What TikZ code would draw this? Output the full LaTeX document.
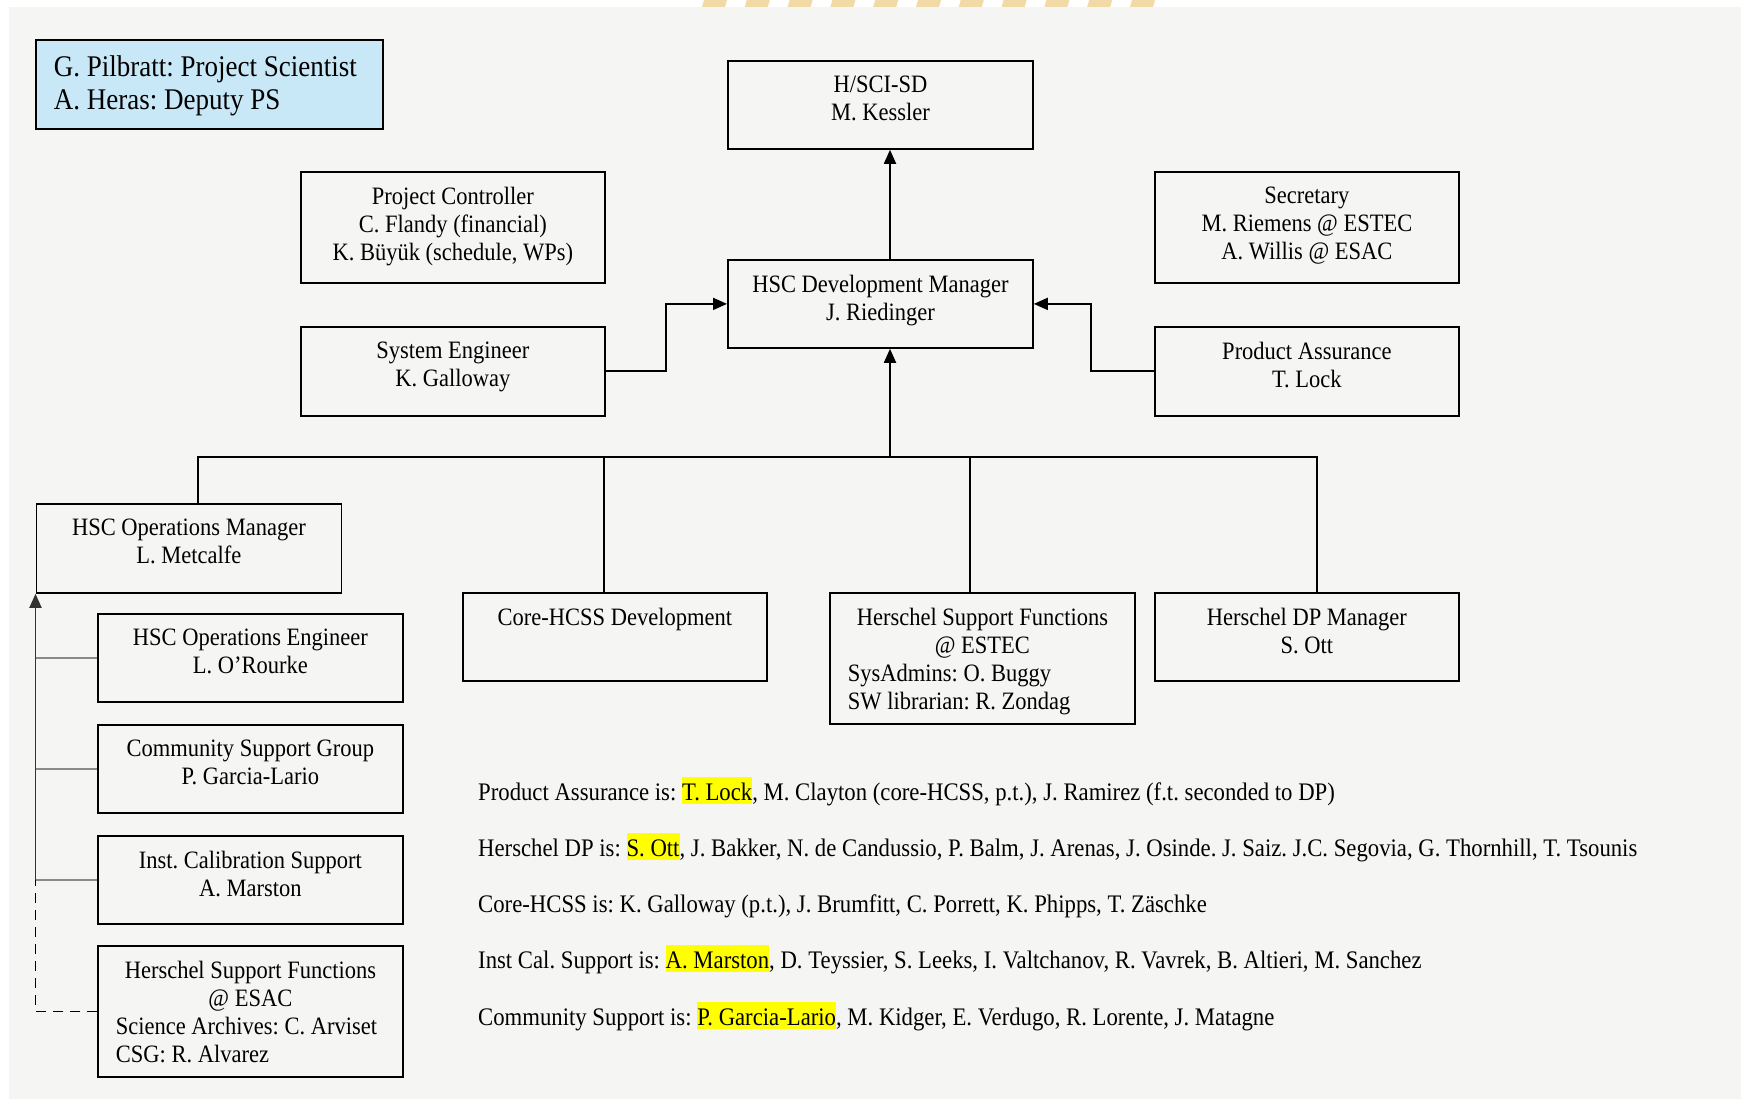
\documentclass[tikz,border=0pt]{standalone}
\usepackage{fontspec}
\setmainfont[FakeStretch=0.9]{Liberation Serif}
\usetikzlibrary{arrows.meta,calc}
\frenchspacing
\definecolor{bgc}{HTML}{F5F6F4}
\definecolor{psblue}{HTML}{C8E8F7}
\definecolor{tanc}{HTML}{F2DAA6}
\definecolor{hly}{HTML}{FFFF00}
\definecolor{lgray}{HTML}{8A8A8A}
\newcommand\bxt[3]{\parbox[c][#1][t]{#2}{\frenchspacing\vspace*{15pt}#3\par}}
\newcommand\hlt[1]{{\setlength{\fboxsep}{0pt}\colorbox{hly}{\rule[-4pt]{0pt}{27pt}#1}}}
\begin{document}
\begin{tikzpicture}[x=1pt,y=-1pt,
  box/.style={draw, line width=1.8pt, anchor=north west, inner sep=0pt,
    font=\fontsize{25}{28}\selectfont},
  arr/.style={line width=1.8pt, -{Triangle[length=14pt,width=12pt]}},
  link/.style={line width=1.8pt},
  glink/.style={line width=1.8pt, draw=lgray},
  dlink/.style={line width=1.8pt, dash pattern=on 10pt off 7pt},
  tline/.style={anchor=base west, inner sep=0pt, font=\fontsize{25.25}{28}\selectfont}]
\useasboundingbox (0,0) rectangle (1741,1099);
\fill[white] (0,0) rectangle (1741,1099);
\fill[bgc] (9,7) rectangle (1741,1099);
\foreach \i in {0,...,10}
  \fill[tanc] ({704+42.8*\i},0) -- ++(23,0) -- ++(-2,7) -- ++(-23,0) -- cycle;

% boxes
\node[box, fill=psblue, minimum width=347pt, minimum height=89pt,
  font=\fontsize{30}{33}\selectfont] (ps) at (35,39)
  {\parbox[c][89pt][t]{311pt}{\vspace*{16pt}\raggedright G. Pilbratt: Project Scientist\\A. Heras: Deputy PS\par}};
\node[box, minimum width=305pt, minimum height=88pt] (kess) at (727,60)
  {\bxt{88pt}{269pt}{\centering H/SCI-SD\\M. Kessler}};
\node[box, minimum width=305pt, minimum height=88pt] (dev) at (727,259)
  {\bxt{88pt}{269pt}{\centering HSC Development Manager\\J. Riedinger}};
\node[box, minimum width=304pt, minimum height=111pt] (pc) at (300,171)
  {\bxt{111pt}{268pt}{\centering Project Controller\\C. Flandy (financial)\\K. Büyük (schedule, WPs)}};
\node[box, minimum width=304pt, minimum height=111pt] (sec) at (1154,171)
  {\bxt{111pt}{268pt}{\centering Secretary\\M. Riemens @ ESTEC\\A. Willis @ ESAC}};
\node[box, minimum width=304pt, minimum height=89pt] (se) at (300,326)
  {\bxt{89pt}{268pt}{\centering System Engineer\\K. Galloway}};
\node[box, minimum width=304pt, minimum height=89pt] (pa) at (1154,326)
  {\bxt{89pt}{268pt}{\centering Product Assurance\\T. Lock}};
\node[box, minimum width=305pt, minimum height=89pt] (ops) at (35.5,503)
  {\bxt{89pt}{269pt}{\centering HSC Operations Manager\\L. Metcalfe}};
\node[box, minimum width=305pt, minimum height=88pt] (eng) at (97,613)
  {\bxt{88pt}{269pt}{\centering HSC Operations Engineer\\L. O'Rourke}};
\node[box, minimum width=305pt, minimum height=88pt] (csg) at (97,724)
  {\bxt{88pt}{269pt}{\centering Community Support Group\\P. Garcia-Lario}};
\node[box, minimum width=305pt, minimum height=88pt] (ica) at (97,835)
  {\bxt{88pt}{269pt}{\centering Inst. Calibration Support\\A. Marston}};
\node[box, minimum width=305pt, minimum height=131pt] (esac) at (97,945)
  {\bxt{131pt}{269pt}{{\centering Herschel Support Functions\\@ ESAC\par}\raggedright Science Archives: C. Arviset\\CSG: R. Alvarez}};
\node[box, minimum width=304pt, minimum height=88pt] (core) at (462,592)
  {\bxt{88pt}{268pt}{\centering Core-HCSS Development}};
\node[box, minimum width=305pt, minimum height=131pt] (estec) at (829,592)
  {\bxt{131pt}{269pt}{{\centering Herschel Support Functions\\@ ESTEC\par}\raggedright SysAdmins: O. Buggy\\SW librarian: R. Zondag}};
\node[box, minimum width=304pt, minimum height=88pt] (dp) at (1154,592)
  {\bxt{88pt}{268pt}{\centering Herschel DP Manager\\S. Ott}};

% connectors
\coordinate (bm) at (890,457);
\draw[arr] (dev.north -| bm) -- (kess.south -| bm);
\draw[arr] (bm) -- (dev.south -| bm);
\draw[arr] (se.east) -| (666,350) |- (dev.west);
\draw[arr] (pa.east -| pa.west) -| (1091,350) |- (dev.east);
\draw[link] (198,457 |- ops.north) -- (198,457) -- (1317,457) -- (1317,457 |- dp.north);
\draw[link] (604,457) -- (604,457 |- core.north);
\draw[link] (970,457) -- (970,457 |- estec.north);
\coordinate (lx) at (ops.south west);
\draw[arr, draw=black!80] (lx |- ica.west) -- (ops.south west);
\draw[glink] (eng.west) -- (lx |- eng.west);
\draw[glink] (csg.west) -- (lx |- csg.west);
\draw[glink] (ica.west) -- (lx |- ica.west);
\draw[dlink] (esac.west) -| (lx |- ica.west);

% team lists
\node[tline] (t1) at (478,800) {Product Assurance is: \hlt{T. Lock}, M. Clayton (core-HCSS, p.t.), J. Ramirez (f.t. seconded to DP)};
\node[tline] (t2) at (478,856) {Herschel DP is: \hlt{S. Ott}, J. Bakker, N. de Candussio, P. Balm, J. Arenas, J. Osinde. J. Saiz. J.C. Segovia, G. Thornhill, T. Tsounis};
\node[tline] (t3) at (478,912) {Core-HCSS is: K. Galloway (p.t.), J. Brumfitt, C. Porrett, K. Phipps, T. Zäschke};
\node[tline] (t4) at (478,968) {Inst Cal. Support is: \hlt{A. Marston}, D. Teyssier, S. Leeks, I. Valtchanov, R. Vavrek, B. Altieri, M. Sanchez};
\node[tline] (t5) at (478,1025) {Community Support is: \hlt{P. Garcia-Lario}, M. Kidger, E. Verdugo, R. Lorente, J. Matagne};
\end{tikzpicture}
\end{document}
